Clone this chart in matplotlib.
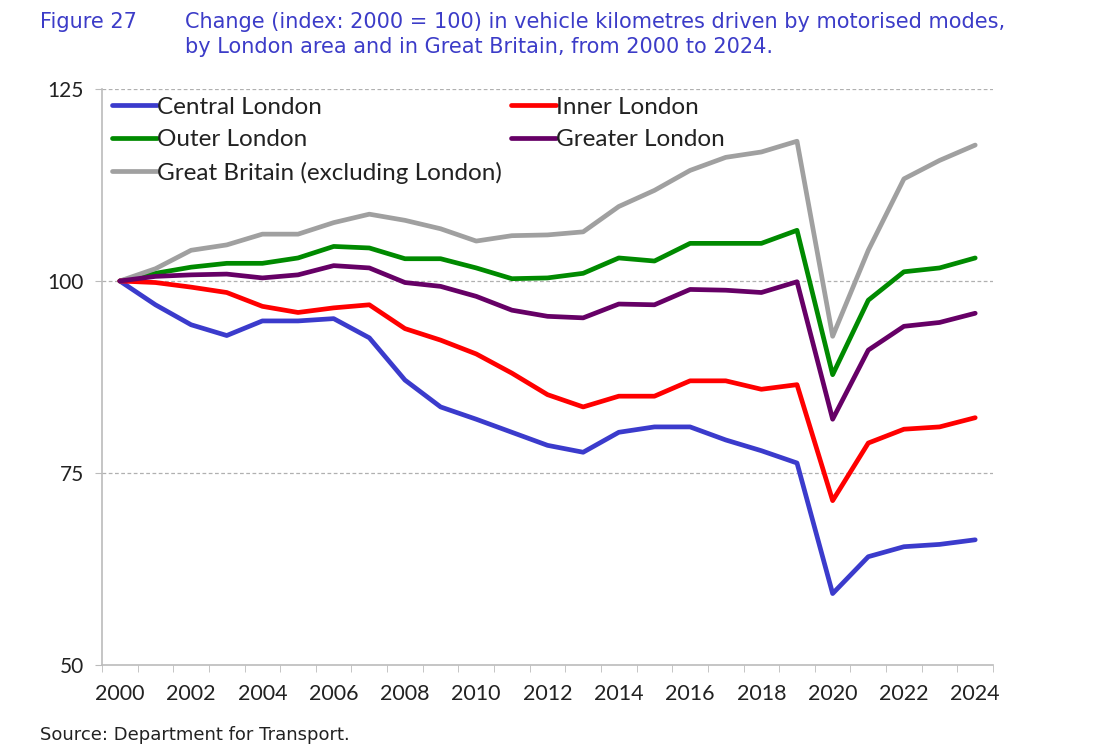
import numpy as np
import matplotlib.pyplot as plt

years = np.arange(2000, 2025)

central = [100, 96.9, 94.3, 92.9, 94.8, 94.8, 95.1, 92.6, 87.1, 83.6, 82.0, 80.3, 78.6,
           77.7, 80.3, 81.0, 81.0, 79.3, 77.9, 76.3, 59.3, 64.1, 65.4, 65.7, 66.3]
inner = [100, 99.8, 99.2, 98.5, 96.7, 95.9, 96.5, 96.9, 93.8, 92.3, 90.5, 88.0, 85.2,
         83.6, 85.0, 85.0, 87.0, 87.0, 85.9, 86.5, 71.4, 78.9, 80.7, 81.0, 82.2]
outer = [100, 101.0, 101.8, 102.3, 102.3, 103.0, 104.5, 104.3, 102.9, 102.9, 101.7, 100.3, 100.4,
         101.0, 103.0, 102.6, 104.9, 104.9, 104.9, 106.6, 87.8, 97.5, 101.2, 101.7, 103.0]
greater = [100, 100.6, 100.8, 100.9, 100.4, 100.8, 102.0, 101.7, 99.8, 99.3, 98.0, 96.2, 95.4,
           95.2, 97.0, 96.9, 98.9, 98.8, 98.5, 99.9, 82.0, 91.0, 94.1, 94.6, 95.8]
gb = [100, 101.6, 104.0, 104.7, 106.1, 106.1, 107.6, 108.7, 107.9, 106.8, 105.2, 105.9, 106.0,
      106.4, 109.7, 111.8, 114.4, 116.1, 116.8, 118.2, 92.8, 104.0, 113.3, 115.7, 117.7]

series = [
    ("Central London", central, "#3b3bcc"),
    ("Outer London", outer, "#008a00"),
    ("Great Britain (excluding London)", gb, "#a0a0a0"),
    ("Inner London", inner, "#ff0000"),
    ("Greater London", greater, "#660066"),
]

plt.rcParams['font.family'] = ['Lato', 'DejaVu Sans']

fig = plt.figure(figsize=(10.98, 7.53), dpi=100)
ax = fig.add_axes([0.0929, 0.1169, 0.8115, 0.7649])

for name, vals, col in series:
    ax.plot(years, vals, color=col, lw=3.4, label=name, solid_capstyle='round')

ax.set_xlim(1999.5, 2024.5)
ax.set_ylim(50, 125)
ax.set_yticks([50, 75, 100, 125])
ax.set_xticks(years[::2])
ax.set_xticks(np.arange(1999.5, 2025, 1), minor=True)
ax.tick_params(axis='x', which='major', length=0, labelsize=15.5, pad=14, colors='#222222')
ax.tick_params(axis='x', which='minor', length=5, color='#bbbbbb', direction='out')
ax.tick_params(axis='y', length=5, color='#bbbbbb', labelsize=15, pad=8, labelcolor='#222222')

for v in [75, 100, 125]:
    ax.axhline(v, color='#b0b0b0', lw=0.9, ls=(0, (3, 2)), zorder=0)

for s in ['top', 'right']:
    ax.spines[s].set_visible(False)
for s in ['left', 'bottom']:
    ax.spines[s].set_color('#bbbbbb')
    ax.spines[s].set_linewidth(1.2)

leg = ax.legend(loc='upper left', ncol=2, frameon=False, fontsize=17.5,
                handlelength=1.85, handletextpad=0.0, columnspacing=0.4,
                labelspacing=0.47, borderaxespad=0.0, borderpad=0.1,
                bbox_to_anchor=(0.008, 0.991))
for t in leg.get_texts():
    t.set_color('#222222')

title_col = '#3c3cc8'
fig.text(40 / 1098, 1 - 22 / 753, "Figure 27", color=title_col, fontsize=15,
         va='center', family='DejaVu Sans')
fig.text(185 / 1098, 1 - 22 / 753,
         "Change (index: 2000 = 100) in vehicle kilometres driven by motorised modes,",
         color=title_col, fontsize=15, va='center', family='DejaVu Sans')
fig.text(185 / 1098, 1 - 47 / 753,
         "by London area and in Great Britain, from 2000 to 2024.",
         color=title_col, fontsize=15, va='center', family='DejaVu Sans')
fig.text(40 / 1098, 1 - 735 / 753, "Source: Department for Transport.", color='#222222',
         fontsize=13, va='center', family='DejaVu Sans')

fig.savefig('out.png', dpi=100)
